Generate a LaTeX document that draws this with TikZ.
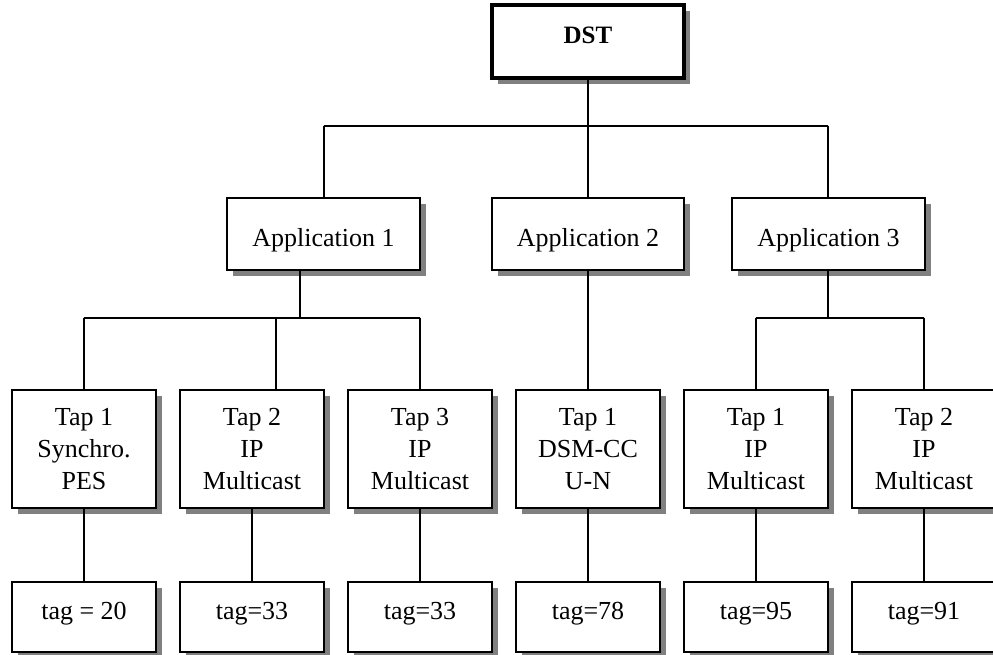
\documentclass[tikz,border=0pt]{standalone}
\usepackage{fontspec}
\setmainfont{Liberation Serif}
\usetikzlibrary{shadows}
\tikzset{
  box/.style={draw, line width=2.8pt, fill=white, inner sep=0pt, outer sep=0pt, anchor=north,
    general shadow={fill=black!50, shadow xshift=6pt, shadow yshift=-6pt}},
  topbox/.style={box, line width=4pt},
  lbl/.style={inner sep=0pt, anchor=north, align=center, font=\fontsize{26}{32}\selectfont},
  toplbl/.style={inner sep=0pt, anchor=north, font=\fontsize{25}{30}\selectfont\bfseries},
  conn/.style={line width=2.4pt}
}
\begin{document}
\begin{tikzpicture}[x=1pt, y=-1pt]
\useasboundingbox (0,0) rectangle (993,655);
\path[clip] (0,0) rectangle (993,655);

% ---- connectors (drawn first, boxes cover them) ----
\coordinate (hl) at (324,126);
\coordinate (hm) at (588,126);
\coordinate (hr) at (828,126);
\coordinate (a1d) at (300,318);
\coordinate (a1l) at (84,318);
\coordinate (a1m) at (276,318);
\coordinate (a1r) at (420,318);
\coordinate (a3d) at (828,318);
\coordinate (a3l) at (756,318);
\coordinate (a3r) at (924,318);

% ---- boxes ----
\node[topbox, minimum width=192pt, minimum height=73pt] (dst) at (588,5) {};
\node[box, minimum width=193pt, minimum height=72pt] (app1) at (323.5,198) {};
\node[box, minimum width=192pt, minimum height=72pt] (app2) at (588,198) {};
\node[box, minimum width=193pt, minimum height=72pt] (app3) at (828.5,198) {};

\foreach \n/\x in {1/84,2/252,3/420,4/588,5/756,6/924}{
  \node[box, minimum width=144pt, minimum height=118pt] (tap\n) at (\x,390) {};
  \node[box, minimum width=144pt, minimum height=70pt] (tag\n) at (\x,582) {};
}

% ---- connectors ----
\draw[conn] (dst.south) -- (hm);
\draw[conn] (hl) -- (hr);
\draw[conn] (hl) -- (hl |- app1.north);
\draw[conn] (hm) -- (app2.north);
\draw[conn] (hr) -- (hr |- app3.north);

\draw[conn] (a1d |- app1.south) -- (a1d);
\draw[conn] (a1l) -- (a1r);
\draw[conn] (a1l) -- (tap1.north);
\draw[conn] (a1m) -- (a1m |- tap2.north);
\draw[conn] (a1r) -- (tap3.north);

\draw[conn] (app2.south) -- (tap4.north);

\draw[conn] (a3d |- app3.south) -- (a3d);
\draw[conn] (a3l) -- (a3r);
\draw[conn] (a3l) -- (tap5.north);
\draw[conn] (a3r) -- (tap6.north);

\foreach \n in {1,...,6}{
  \draw[conn] (tap\n.south) -- (tag\n.north);
}

% ---- labels ----
\node[toplbl] (dstl) at ([yshift=-22pt]dst.north) {DST};
\node[lbl] (app1l) at ([yshift=-30pt]app1.north) {Application 1};
\node[lbl] (app2l) at ([yshift=-30pt]app2.north) {Application 2};
\node[lbl] (app3l) at ([yshift=-30pt]app3.north) {Application 3};

\node[lbl] (tap1l) at ([yshift=-18pt]tap1.north) {Tap 1\\Synchro.\\PES};
\node[lbl] (tap2l) at ([yshift=-18pt]tap2.north) {Tap 2\\IP\\Multicast};
\node[lbl] (tap3l) at ([yshift=-18pt]tap3.north) {Tap 3\\IP\\Multicast};
\node[lbl] (tap4l) at ([yshift=-18pt]tap4.north) {Tap 1\\DSM-CC\\U-N};
\node[lbl] (tap5l) at ([yshift=-18pt]tap5.north) {Tap 1\\IP\\Multicast};
\node[lbl] (tap6l) at ([yshift=-18pt]tap6.north) {Tap 2\\IP\\Multicast};

\node[lbl] (tag1l) at ([yshift=-20pt]tag1.north) {tag = 20};
\node[lbl] (tag2l) at ([yshift=-20pt]tag2.north) {tag=33};
\node[lbl] (tag3l) at ([yshift=-20pt]tag3.north) {tag=33};
\node[lbl] (tag4l) at ([yshift=-20pt]tag4.north) {tag=78};
\node[lbl] (tag5l) at ([yshift=-20pt]tag5.north) {tag=95};
\node[lbl] (tag6l) at ([yshift=-20pt]tag6.north) {tag=91};
\end{tikzpicture}
\end{document}
